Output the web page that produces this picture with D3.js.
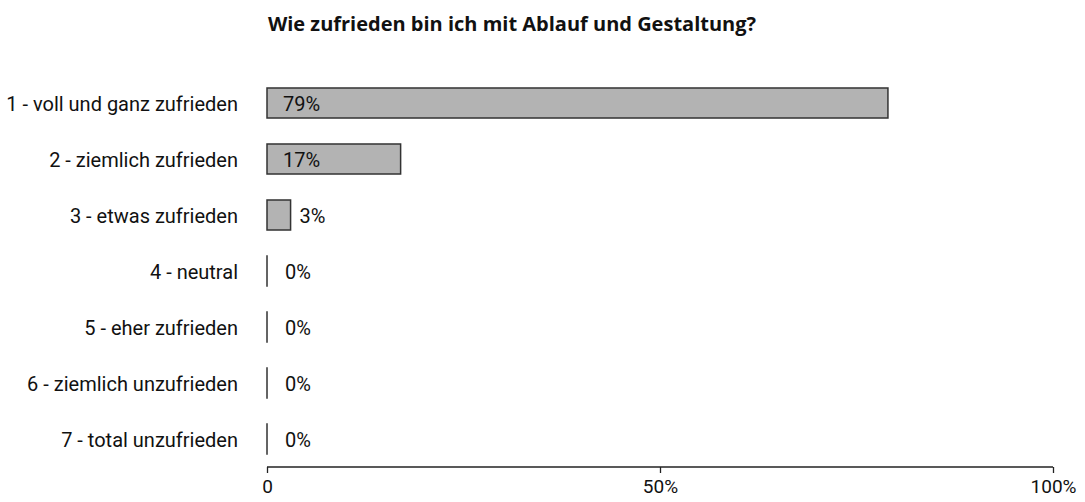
<!DOCTYPE html>
<html>
<head>
<meta charset="utf-8">
<script src="https://cdn.jsdelivr.net/npm/d3@7"></script>
<style>
  body { margin: 0; background: #fff; }
  text { font-family: Roboto, "Noto Sans", sans-serif; fill: #111; }
</style>
</head>
<body>
<svg id="chart"></svg>
<script>
/* Data */
const categories = [
    "1 - voll und ganz zufrieden",
    "2 - ziemlich zufrieden",
    "3 - etwas zufrieden",
    "4 - neutral",
    "5 - eher zufrieden",
    "6 - ziemlich unzufrieden",
    "7 - total unzufrieden"
];
const shares = [79, 17, 3, 0, 0, 0, 0];
const tickValues = [0, 50, 100];
const tickLabels = ["0", "50%", "100%"];

/* Dimensions */
const width = 1085, height = 502;
const margin = { top: 75, left: 267 };
const innerW = 786;
const innerH = 392;

const svg = d3.select("#chart").attr("width", width).attr("height", height);
const g = svg.append("g").attr("transform", `translate(${margin.left},${margin.top})`);

/* Scales */
const x = d3.scaleLinear().domain([0, 100]).range([0, innerW]);
const y = d3.scaleBand().domain(categories).range([0, innerH]).paddingInner(0.464).paddingOuter(0.232);

const data = categories.map((c, i) => ({ cat: c, v: shares[i] }));

/* Bars (zero values still show as a thin outline) */
g.selectAll("rect.bar")
    .data(data)
    .join("rect")
      .attr("class", "bar")
      .attr("x", x(0))
      .attr("y", d => y(d.cat))
      .attr("width", d => Math.max(x(d.v), 0.01))
      .attr("height", y.bandwidth())
      .attr("fill", "#b3b3b3")
      .attr("stroke", "#333")
      .attr("stroke-width", 1.5);

/* Value labels: inside wide bars, right of narrow ones */
g.selectAll("text.val")
    .data(data)
    .join("text")
      .attr("class", "val")
      .attr("x", d => x(d.v) > 50 ? x(0) + 16 : Math.max(x(0) + 18, x(d.v) + 9))
      .attr("y", d => y(d.cat) + y.bandwidth() / 2)
      .attr("dy", "0.42em")
      .style("font-size", "20px")
      .text(d => d.v + "%");

/* Category labels */
g.selectAll("text.cat")
    .data(data)
    .join("text")
      .attr("class", "cat")
      .attr("x", -29)
      .attr("y", d => y(d.cat) + y.bandwidth() / 2)
      .attr("dy", "0.42em")
      .attr("text-anchor", "end")
      .style("font-size", "20px")
      .text(d => d.cat);

/* X axis */
const axis = g.append("g")
    .attr("transform", `translate(0,${innerH})`)
    .call(d3.axisBottom(x).tickValues(tickValues).tickSize(6).tickPadding(7)
        .tickFormat((d, i) => tickLabels[i]));
axis.select(".domain").attr("stroke", "#222").attr("stroke-width", 1.3)
    .attr("d", `M0,0H${innerW}`);
axis.selectAll(".tick line").attr("stroke", "#222").attr("stroke-width", 1.3);
axis.selectAll(".tick text").style("font-size", "19px").attr("fill", "#111")
    .attr("font-family", "Roboto, 'Noto Sans', sans-serif");

/* Title */
svg.append("text")
    .attr("x", 512)
    .attr("y", 31)
    .attr("text-anchor", "middle")
    .style("font-family", "'Open Sans', 'Noto Sans', sans-serif")
    .style("font-size", "20px")
    .style("font-weight", "bold")
    .text("Wie zufrieden bin ich mit Ablauf und Gestaltung?");
</script>
</body>
</html>
